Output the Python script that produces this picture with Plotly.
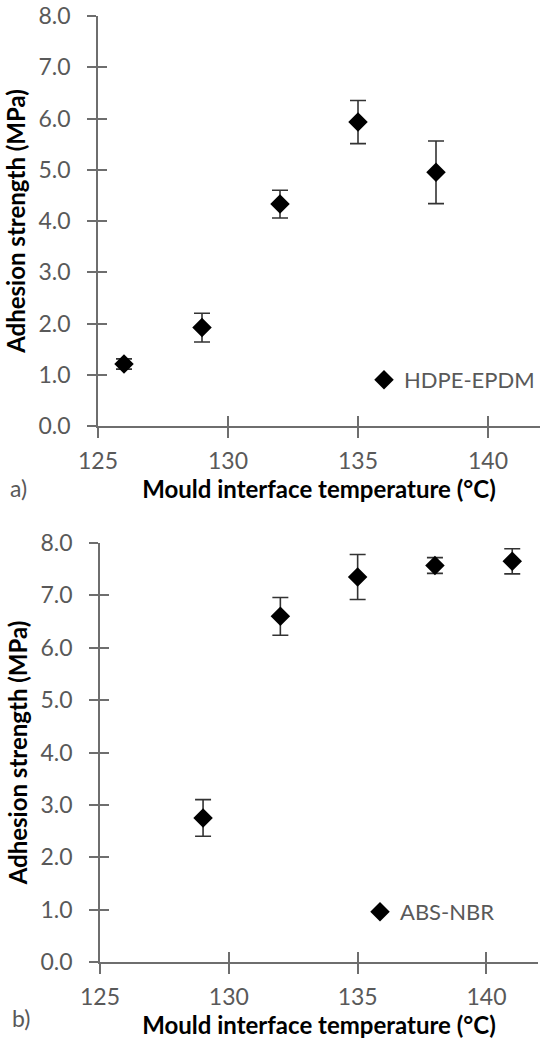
import plotly.graph_objects as go

# ---- data ----
temp_a = [126, 129, 132, 135, 138]
strength_a = [1.21, 1.92, 4.33, 5.93, 4.95]
err_a = [0.10, 0.28, 0.27, 0.42, 0.61]

temp_b = [129, 132, 135, 138, 141]
strength_b = [2.75, 6.60, 7.35, 7.57, 7.65]
err_b = [0.35, 0.36, 0.43, 0.15, 0.24]

x_ticks = [125, 130, 135, 140]
y_ticks = [0, 1, 2, 3, 4, 5, 6, 7, 8]

W, H = 544, 1039
FONT = "Lato"
GRAY = "#595959"
AX = "#6e6e6e"

fig = go.Figure()

def add_series(x, y, e, xa, ya, name, legend):
    fig.add_trace(go.Scatter(
        x=x, y=y, mode="markers", name=name, xaxis=xa, yaxis=ya,
        marker=dict(symbol="diamond", size=15, color="black"),
        error_y=dict(type="data", array=e, visible=True, color="#333333",
                     thickness=1.6, width=8),
        legend=legend, showlegend=True,
    ))

def add_ghost(x, y, xa, ya):
    fig.add_trace(go.Scatter(x=x, y=y, mode="markers", xaxis=xa, yaxis=ya,
                             marker=dict(opacity=0), showlegend=False,
                             hoverinfo="skip"))

add_series(temp_a, strength_a, err_a, "x", "y", "HDPE-EPDM", "legend")
add_series(temp_b, strength_b, err_b, "x2", "y2", "ABS-NBR", "legend2")
add_ghost(temp_a, strength_a, "x3", "y3")
add_ghost(temp_b, strength_b, "x4", "y4")

def py(px):
    return 1 - px / H

dom_xa = [98 / W, 540 / W]
dom_xb = [100 / W, 538 / W]
dom_ya = [py(426), py(16)]
dom_yb = [py(962), py(543)]

tickfont = dict(family=FONT, size=23, color=GRAY)
titlefont = dict(family=FONT, size=24, color="black", weight="bold")

def xaxis(dom, anchor, title):
    return dict(domain=dom, anchor=anchor, range=[125, 142], tickvals=x_ticks,
                showline=True, linecolor=AX, linewidth=1.6, ticks="outside",
                ticklen=10, tickwidth=1.6, tickcolor=AX, showgrid=False,
                zeroline=False, tickfont=tickfont, ticklabelstandoff=4,
                automargin=False,
                title=dict(text=title, font=titlefont, standoff=2))

def yaxis(dom, anchor, title):
    return dict(domain=dom, anchor=anchor, range=[0, 8], tickvals=y_ticks,
                tickformat=".1f", showline=True, linecolor=AX, linewidth=1.6,
                ticks="outside", ticklen=9, tickwidth=1.6, tickcolor=AX,
                showgrid=False, zeroline=False, tickfont=tickfont,
                ticklabelstandoff=12, automargin=False,
                title=dict(text=title, font=titlefont, standoff=6))

def overlay_x(base, anchor, dom):
    return dict(overlaying=base, anchor=anchor, domain=dom, range=[125, 142],
                tickvals=x_ticks, ticks="inside", ticklen=10, tickwidth=1.6,
                tickcolor=AX, showticklabels=False, showline=False,
                showgrid=False, zeroline=False, automargin=False)

def overlay_y(base, anchor, dom):
    return dict(overlaying=base, anchor=anchor, domain=dom, range=[0, 8],
                tickvals=y_ticks, ticks="inside", ticklen=9, tickwidth=1.6,
                tickcolor=AX, showticklabels=False, showline=False,
                showgrid=False, zeroline=False, automargin=False)

xt = "Mould interface temperature (°C)"
yt = "Adhesion strength (MPa)"

fig.update_layout(
    width=W, height=H, margin=dict(l=0, r=0, t=0, b=0, autoexpand=False),
    paper_bgcolor="white", plot_bgcolor="white",
    font=dict(family=FONT),
    xaxis=xaxis(dom_xa, "y", xt),
    yaxis=yaxis(dom_ya, "x", yt),
    xaxis2=xaxis(dom_xb, "y2", xt),
    yaxis2=yaxis(dom_yb, "x2", yt),
    xaxis3=overlay_x("x", "y3", dom_xa),
    yaxis3=overlay_y("y", "x3", dom_ya),
    xaxis4=overlay_x("x2", "y4", dom_xb),
    yaxis4=overlay_y("y2", "x4", dom_yb),
    legend=dict(x=540 / W, xanchor="right", y=py(380), yanchor="middle",
                bgcolor="rgba(0,0,0,0)", font=dict(family=FONT, size=22, color=GRAY),
                itemwidth=30),
    legend2=dict(x=500 / W, xanchor="right", y=py(912), yanchor="middle",
                 bgcolor="rgba(0,0,0,0)", font=dict(family=FONT, size=22, color=GRAY),
                 itemwidth=30),
    showlegend=True,
    annotations=[
        dict(text="a)", x=8 / W, y=py(488), xref="paper", yref="paper",
             xanchor="left", yanchor="middle", showarrow=False,
             font=dict(family=FONT, size=23, color=GRAY)),
        dict(text="b)", x=10 / W, y=py(1018), xref="paper", yref="paper",
             xanchor="left", yanchor="middle", showarrow=False,
             font=dict(family=FONT, size=23, color=GRAY)),
    ],
)

fig.write_html("out.html")
